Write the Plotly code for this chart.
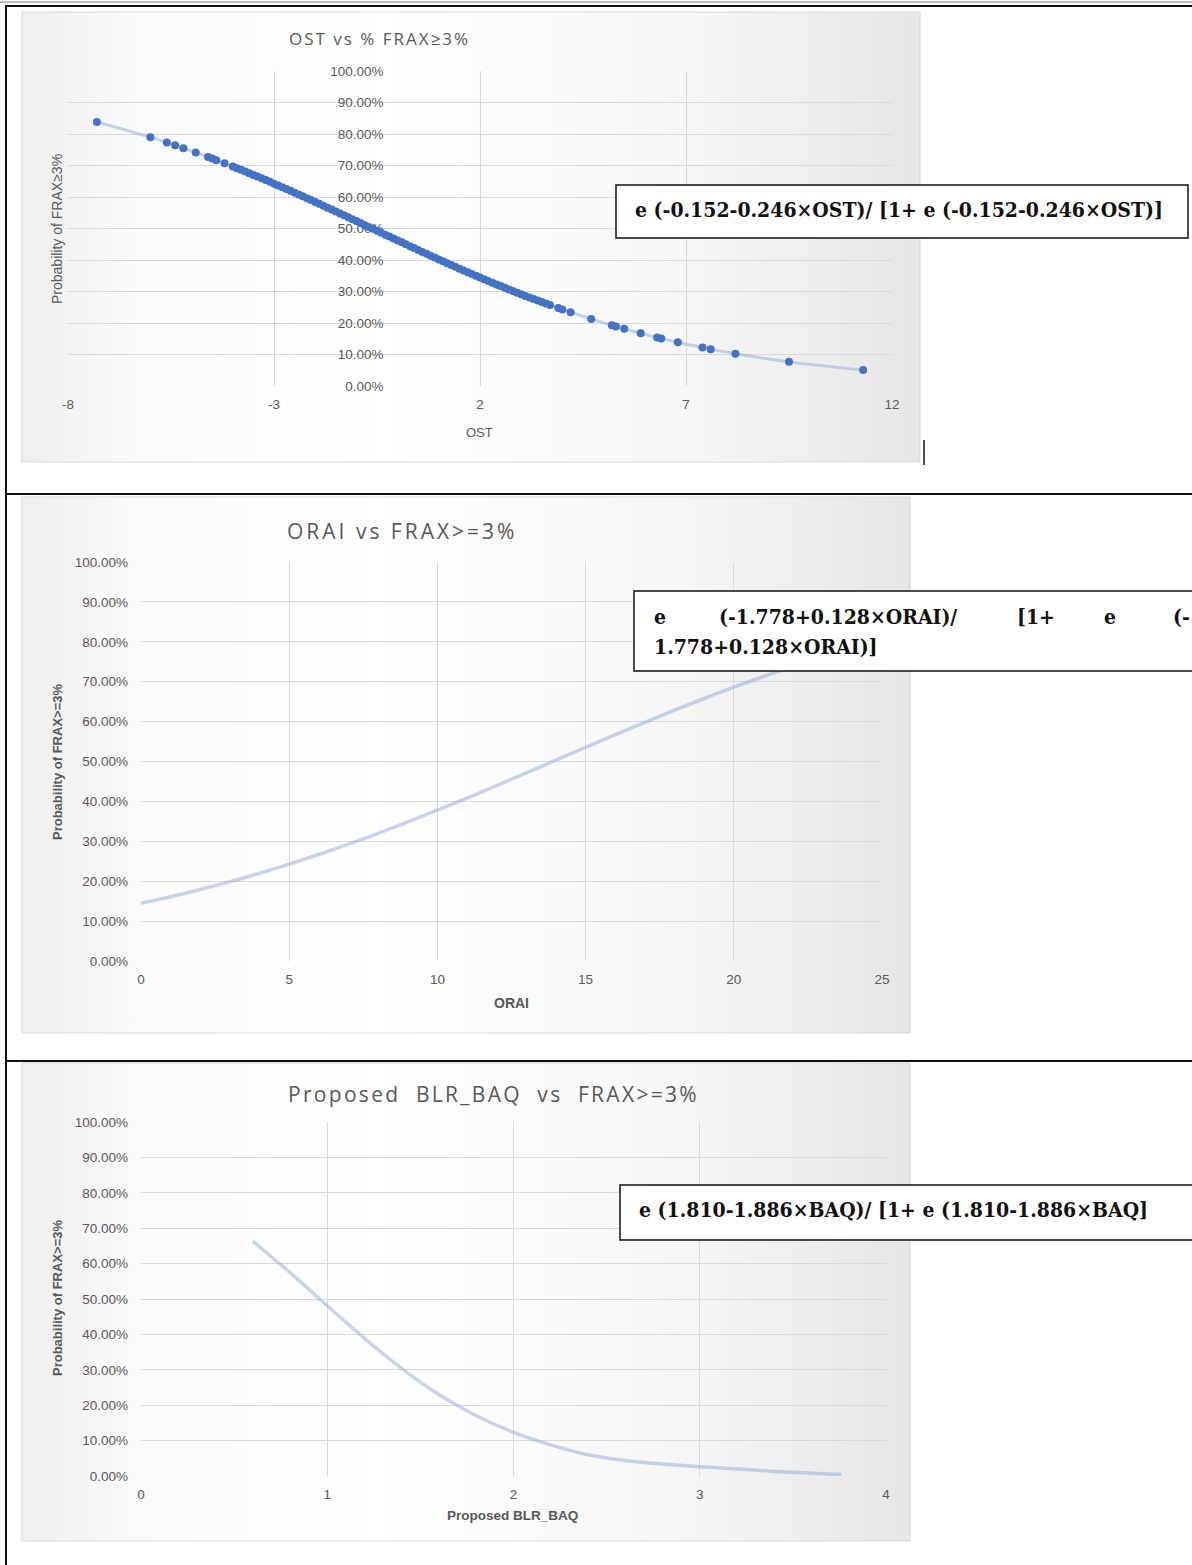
import plotly.graph_objects as go

W, H = 1192, 1565

# ---------------- data ----------------
ost_x = [-7.3, -6.0, -5.6, -5.4, -5.2, -4.9, -4.6, -4.5, -4.4, -4.2,
         -4.0, -3.9, -3.8, -3.7, -3.6, -3.5, -3.4, -3.3, -3.2, -3.1,
         -3.0, -2.9, -2.8, -2.7, -2.6, -2.5, -2.4, -2.3, -2.2, -2.1,
         -2.0, -1.9, -1.8, -1.7, -1.6, -1.5, -1.4, -1.3, -1.2, -1.1,
         -1.0, -0.9, -0.8, -0.7, -0.6, -0.5, -0.4, -0.3, -0.2, -0.1,
         0.0, 0.1, 0.2, 0.3, 0.4, 0.5, 0.6, 0.7, 0.8, 0.9,
         1.0, 1.1, 1.2, 1.3, 1.4, 1.5, 1.6, 1.7, 1.8, 1.9,
         2.0, 2.1, 2.2, 2.3, 2.4, 2.5, 2.6, 2.7, 2.8, 2.9,
         3.0, 3.1, 3.2, 3.3, 3.4, 3.5, 3.6, 3.7, 3.9, 4.0, 4.2,
         4.7, 5.2, 5.3, 5.5, 5.9, 6.3, 6.4, 6.8, 7.4, 7.6, 8.2, 9.5, 11.3]
ost_p = [0.838, 0.790, 0.773, 0.764, 0.755, 0.741, 0.727, 0.722, 0.717, 0.707,
         0.6968, 0.6916, 0.6863, 0.6810, 0.6756, 0.6702, 0.6647, 0.6592, 0.6537, 0.6481,
         0.6424, 0.6368, 0.6311, 0.6253, 0.6196, 0.6137, 0.6079, 0.6020, 0.5961, 0.5902,
         0.5842, 0.5782, 0.5722, 0.5661, 0.5601, 0.5540, 0.5480, 0.5419, 0.5358, 0.5296,
         0.5235, 0.5174, 0.5112, 0.5051, 0.4989, 0.4928, 0.4866, 0.4805, 0.4743, 0.4682,
         0.4621, 0.4560, 0.4499, 0.4438, 0.4377, 0.4317, 0.4257, 0.4197, 0.4137, 0.4077,
         0.4018, 0.3959, 0.3900, 0.3842, 0.3784, 0.3726, 0.3669, 0.3612, 0.3555, 0.3499,
         0.3443, 0.3388, 0.3333, 0.3279, 0.3225, 0.3171, 0.3118, 0.3066, 0.3014, 0.2962,
         0.2911, 0.2861, 0.2811, 0.2761, 0.2712, 0.2664, 0.2616, 0.2569, 0.2476, 0.2431, 0.2341,
         0.2128, 0.1929, 0.1891, 0.1817, 0.1675, 0.1542, 0.1511, 0.1388, 0.1221, 0.1169, 0.1025, 0.0766, 0.0506]

orai_x = [0, 1, 2, 3, 4, 5, 6, 7, 8, 9, 10, 11, 12, 13, 14, 15, 16, 17, 18, 19, 20, 21, 22]
orai_p = [0.1445, 0.1611, 0.1792, 0.1988, 0.2199, 0.2427, 0.2670, 0.2927, 0.3200, 0.3484,
          0.3780, 0.4085, 0.4398, 0.4715, 0.5035, 0.5354, 0.5671, 0.5982, 0.6285, 0.6579,
          0.6862, 0.7130, 0.7384]

baq_x = [0.6, 0.8, 1.0, 1.2, 1.4, 1.6, 1.8, 2.0, 2.2, 2.4, 2.6, 2.8, 3.0, 3.2, 3.4, 3.6, 3.76]
baq_p = [0.6634, 0.5747, 0.4810, 0.3886, 0.3036, 0.2301, 0.1701, 0.1233, 0.0879, 0.0600,
         0.0440, 0.0340, 0.0260, 0.0200, 0.0130, 0.0080, 0.0040]

ost_ticks = [-8, -3, 2, 7, 12]
ost_ticklabels = ["-8", "-3", "2", "7", "12"]

titles = ["OST vs % FRAX≥3%", "ORAI vs FRAX>=3%",
          "Proposed\u00a0 BLR_BAQ\u00a0 vs\u00a0 FRAX>=3%"]
x_titles = ["OST", "<b>ORAI</b>", "<b>Proposed BLR_BAQ</b>"]
y_titles = ["Probability of FRAX≥3%", "<b>Probability of FRAX>=3%</b>",
            "<b>Probability of FRAX>=3%</b>"]
formulas = ["e (-0.152-0.246×OST)/ [1+ e (-0.152-0.246×OST)]",
            "e (1.810-1.886×BAQ)/ [1+ e (1.810-1.886×BAQ]"]
orai_words_line1 = ["e", "(-1.778+0.128×ORAI)/", "[1+", "e", "(-"]
orai_line2 = "1.778+0.128×ORAI)]"

# ---------------- helpers ----------------
def px(x):
    return x / W

def py(y):
    return 1 - y / H

GRAY = "#595959"
GRID = "#d9d9d9"
LINEBLUE = "rgba(143,170,220,0.5)"
DOTBLUE = "#4472C4"
TICKFONT = dict(family="Liberation Sans", size=13.5, color=GRAY)
SERIF = "DejaVu Serif Condensed, DejaVu Serif"
SERIF_SIZE = 21

fig = go.Figure()

# background layer (pixel coordinate axes) with gradient chart areas
chart_boxes = [(22, 12, 920, 462), (22, 497, 910, 1033), (22, 1063, 910, 1541)]
for (x0, y0, x1, y1) in chart_boxes:
    fig.add_trace(go.Scatter(
        x=[x0, x1, x1, x0, x0], y=[y0, y0, y1, y1, y0],
        mode="lines", line=dict(color="#d9d9d9", width=1.2),
        fill="toself",
        fillgradient=dict(type="horizontal",
                          colorscale=[[0, "#eeeeee"], [0.12, "#fafafa"], [0.4, "#ffffff"],
                                      [0.75, "#f6f6f6"], [1, "#e6e6e6"]]),
        hoverinfo="skip", showlegend=False, xaxis="x", yaxis="y"))

# chart 1 : OST
fig.add_trace(go.Scatter(x=ost_x, y=ost_p, mode="lines+markers",
                         line=dict(color=LINEBLUE, width=3, shape="spline"),
                         marker=dict(color=DOTBLUE, size=8),
                         showlegend=False, xaxis="x2", yaxis="y2"))
# chart 2 : ORAI
fig.add_trace(go.Scatter(x=orai_x, y=orai_p, mode="lines",
                         line=dict(color=LINEBLUE, width=3.5, shape="spline"),
                         showlegend=False, xaxis="x3", yaxis="y3"))
# chart 3 : BAQ
fig.add_trace(go.Scatter(x=baq_x, y=baq_p, mode="lines",
                         line=dict(color=LINEBLUE, width=3.5, shape="spline"),
                         showlegend=False, xaxis="x4", yaxis="y4"))

xaxis_common = dict(showgrid=True, gridcolor=GRID, gridwidth=1, zeroline=False,
                    showline=False, ticks="", tickfont=TICKFONT, ticklabelstandoff=8,
                    layer="below traces", automargin=False)
yaxis_common = dict(showgrid=True, gridcolor=GRID, gridwidth=1, zeroline=False,
                    showline=False, ticks="", tickfont=TICKFONT, tickformat=".2%",
                    range=[0, 1], dtick=0.1, tick0=0, layer="below traces", automargin=False)

fig.update_layout(
    template="none",
    width=W, height=H, autosize=False,
    margin=dict(l=0, r=0, t=0, b=0, pad=0, autoexpand=False),
    paper_bgcolor="white", plot_bgcolor="rgba(0,0,0,0)",
    xaxis=dict(domain=[0, 1], range=[0, W], visible=False, fixedrange=True, automargin=False),
    yaxis=dict(domain=[0, 1], range=[H, 0], visible=False, fixedrange=True, automargin=False),
    xaxis2=dict(xaxis_common, domain=[px(68), px(892)], range=[-8, 12],
                tickmode="array", tickvals=ost_ticks, ticktext=ost_ticklabels, anchor="y2"),
    yaxis2=dict(yaxis_common, domain=[py(386), py(71)], anchor="free",
                position=px(68 + 8 * (892 - 68) / 20), ticklabelstandoff=14),
    xaxis3=dict(xaxis_common, domain=[px(141), px(882)], range=[0, 25], tick0=0, dtick=5,
                anchor="y3"),
    yaxis3=dict(yaxis_common, domain=[py(961), py(562)], anchor="x3", ticklabelstandoff=12),
    xaxis4=dict(xaxis_common, domain=[px(141), px(886)], range=[0, 4], tick0=0, dtick=1,
                anchor="y4"),
    yaxis4=dict(yaxis_common, domain=[py(1476), py(1122)], anchor="x4", ticklabelstandoff=12),
)

shapes = []
# plot-area borders
for xa, ya in [("x2", "y2"), ("x3", "y3"), ("x4", "y4")]:
    shapes.append(dict(type="rect", xref=xa + " domain", yref=ya + " domain", x0=0, x1=1, y0=0, y1=1,
                       line=dict(color=GRID, width=1.2), layer="below"))
# table lines
shapes.append(dict(type="line", xref="paper", yref="paper", x0=px(0), x1=px(W), y0=py(2), y1=py(2),
                   line=dict(color="#777777", width=1)))
shapes.append(dict(type="line", xref="paper", yref="paper", x0=px(5), x1=px(W), y0=py(6), y1=py(6),
                   line=dict(color="#111111", width=2)))
shapes.append(dict(type="line", xref="paper", yref="paper", x0=px(6), x1=px(6), y0=py(5), y1=py(H),
                   line=dict(color="#111111", width=2)))
for yy in (494, 1061):
    shapes.append(dict(type="line", xref="paper", yref="paper", x0=px(6), x1=px(W), y0=py(yy), y1=py(yy),
                       line=dict(color="#111111", width=2)))
# cursor mark
shapes.append(dict(type="line", xref="paper", yref="paper", x0=px(924), x1=px(924), y0=py(440), y1=py(465),
                   line=dict(color="#111111", width=1.5)))
# formula boxes
for (x0, y0, x1, y1) in [(616, 185, 1188, 238), (634, 591, 1196, 671), (620, 1185, 1196, 1240)]:
    shapes.append(dict(type="rect", xref="paper", yref="paper", x0=px(x0), x1=px(x1), y0=py(y1), y1=py(y0),
                       fillcolor="white", line=dict(color="#111111", width=1.5), layer="above"))
fig.update_layout(shapes=shapes)

ann = []
def add_text(text, x, y, size, color=GRAY, family="Open Sans", xanchor="center", angle=0):
    ann.append(dict(text=text, x=px(x), y=py(y), xref="paper", yref="paper", showarrow=False,
                    xanchor=xanchor, yanchor="middle", textangle=angle,
                    font=dict(family=family, size=size, color=color)))

def spaced(t, ls):
    return '<span style="letter-spacing:%spx">%s</span>' % (ls, t)

# chart titles
add_text(spaced(titles[0], 2), 379, 39, 17)
add_text(spaced(titles[1], 3), 402, 531, 21)
add_text(spaced(titles[2], 2.3), 493, 1094, 21)
# x axis titles
add_text(x_titles[0], 480, 432, 13, family="Liberation Sans")
add_text(x_titles[1], 511, 1003, 14, family="Liberation Sans")
add_text(x_titles[2], 512, 1515, 13.5, family="Liberation Sans")
# y axis titles
add_text(y_titles[0], 57, 229, 14, family="Liberation Sans", angle=-90)
add_text(y_titles[1], 57, 762, 13, family="Liberation Sans", angle=-90)
add_text(y_titles[2], 57, 1298, 13, family="Liberation Sans", angle=-90)

# formulas
add_text("<b>" + formulas[0] + "</b>", 633, 210, SERIF_SIZE, color="#111111", family=SERIF, xanchor="left")
add_text("<b>" + formulas[1] + "</b>", 637, 1209, SERIF_SIZE, color="#111111", family=SERIF, xanchor="left")
for w, xl in zip(orai_words_line1, [652, 717, 1015, 1102, 1171]):
    add_text("<b>" + w + "</b>", xl, 616, SERIF_SIZE, color="#111111", family=SERIF, xanchor="left")
add_text("<b>" + orai_line2 + "</b>", 652, 646, SERIF_SIZE, color="#111111", family=SERIF, xanchor="left")

fig.update_layout(annotations=ann)

post = ("document.documentElement.style.margin='0';document.body.style.margin='0';"
        "document.body.style.padding='0';document.documentElement.style.overflow='hidden';"
        "document.body.style.overflow='hidden';"
        "var gd=document.getElementById('{plot_id}');"
        "gd.style.position='fixed';gd.style.left='0px';gd.style.top='0px';")

fig.write_html("out.html", config={"displayModeBar": False}, post_script=post)
